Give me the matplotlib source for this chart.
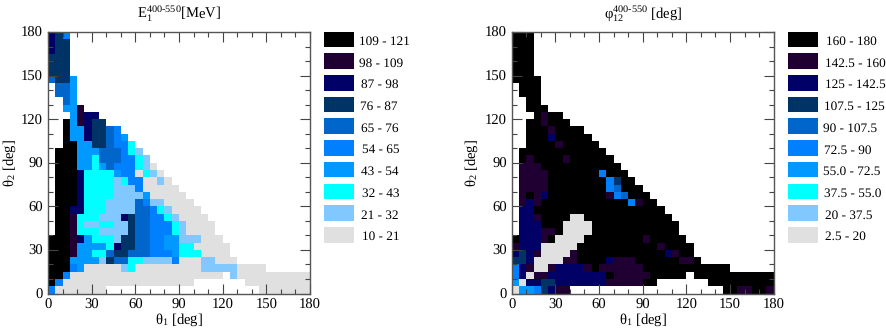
import matplotlib
matplotlib.use('Agg')
import matplotlib.pyplot as plt
from matplotlib.colors import ListedColormap
from matplotlib.patches import Rectangle
from matplotlib.ticker import MultipleLocator
import numpy as np

plt.rcParams['font.family'] = ['Liberation Serif', 'DejaVu Serif']
plt.rcParams['mathtext.fontset'] = 'custom'
plt.rcParams['mathtext.rm'] = 'Liberation Serif'
plt.rcParams['mathtext.it'] = 'Liberation Serif'
plt.rcParams['text.hinting'] = 'none'

# class index per 5 degree cell, top row first, "." = no data
energy_rows = [
    "764", "766", "766", "666", "666", "666", "5663", ".553", ".553", "..53",
    "..338", "...3877", "..938766", "..93376654", "..933766543",
    "..9933665442", ".999333555421", ".9993325554421", ".99933235444210",
    ".999722223440210", ".9997222212440010", ".99972222111400000",
    ".999722221111300000", ".9997222111154110000", ".99772221111554210000",
    ".998222111765544210000", ".99821122116554442100" + "00",
    ".99822211116554442100" + "00",
    "999873222166554433111000", "9998333327665544332200000",
    "9998332256655544432220000", "99933331655221111400011000",
    "99943" + "0" * 5 + "12" + "0" * 9 + "11111" + "0000",
    "994" + "0" * 21 + ".1" + "0" * 10,
    "94" + "0" * 18 + "." * 7 + "0" * 9,
    "4" + "0" * 7 + "." * 21 + "0" * 7,
]
energy_labels = ["10 - 21", "21 - 32", "32 - 43", "43 - 54", "54 - 65",
                 "65 - 76", "76 - 87", "87 - 98", "98 - 109", "109 - 121"]

phi_rows = [
    "999", "999", "999", "999", "999", "999", "9999", ".999", ".999", "..99",
    "..999", "...9899", "..998999", "..99989999", "..999799999",
    "..9999" + "8" + "9" * 5,
    "." + "9" * 12,
    ".98" + "9999" + "8" + "9" * 6,
    ".888" + "9" * 11,
    ".8888" + "9" * 7 + "4" + "999",
    ".8888" + "9" * 8 + "46" + "99",
    ".8888" + "9" * 8 + "45" + "999",
    ".8987" + "9" * 8 + "845" + "999",
    ".878" + "9" * 12 + "48" + "99",
    ".77" + "9" * 18,
    ".778" + "9999" + "00" + "9" * 12,
    ".777" + "999" + "0000" + "9" * 12,
    ".777" + "889" + "0000" + "9" * 12,
    "977789" + "0000" + "9" * 8 + "8" + "9" * 5,
    "8777" + "0" * 5 + "9" * 11 + "8" + "9999",
    "7678" + "0000" + "8" + "9" * 12 + "78" + "99",
    "667" + "0000" + "88" + "9999" + "7" + "888" + "9" * 6 + "88" + "9",
    "47800" + "8" + "7777" + "89" + "8" * 6 + "9" * 12,
    "47088" + "7" * 8 + "9" + "8" * 5 + "9" * 5 + "." + "9" * 11,
    "307766" + "7" * 7 + "8" * 5 + "99" + "." * 7 + "9" * 9,
    "033467" + "88" + "." * 21 + "99" + "88" + "99" + "8",
]
phi_labels = ["2.5 - 20", "20 - 37.5", "37.5 - 55.0", "55.0 - 72.5", "72.5 - 90",
              "90 - 107.5", "107.5 - 125", "125 - 142.5", "142.5 - 160", "160 - 180"]

colors = ['#e0e0e0', '#80c8ff', '#00ffff', '#0099ff', '#0080ff',
          '#0066cc', '#003366', '#000066', '#200033', '#000000']
W, H = 886, 331

# left edge of each legend text in pixels, top entry first
energy_text_x = [359, 359, 361, 360, 361, 362, 361, 362, 361, 362]
phi_text_x = [826, 825, 825, 824, 823, 824, 823, 824, 825, 825]


def rows_to_grid(rows):
    grid = np.full((36, 36), np.nan)
    for r, row in enumerate(rows):
        for c, ch in enumerate(row):
            if ch != '.':
                grid[35 - r, c] = int(ch)
    return grid


def draw_panel(fig, rows, labels, title, left, title_x, ylabel_x, swatch_x, text_x):
    ax = fig.add_axes([left / W, 1 - 293.5 / H, 262 / W, 261.5 / H])
    edges = np.arange(0, 185, 5)
    ax.pcolormesh(edges, edges, rows_to_grid(rows), cmap=ListedColormap(colors),
                  vmin=-0.5, vmax=9.5)
    ax.set_xlim(0, 180)
    ax.set_ylim(0, 180)
    ax.set_xticks(np.arange(0, 181, 30))
    ax.set_yticks(np.arange(0, 181, 30))
    ax.xaxis.set_minor_locator(MultipleLocator(10))
    ax.yaxis.set_minor_locator(MultipleLocator(10))
    ax.tick_params(which='major', direction='in', length=7.5, width=0.8, top=True,
                   right=True, labelsize=10.5, color='#444444', pad=3.5)
    ax.tick_params(which='minor', direction='in', length=3.8, width=0.8, top=True,
                   right=True, color='#444444')
    for spine in ax.spines.values():
        spine.set_linewidth(1.0)
        spine.set_color('#555555')
    fig.text((left + 131) / W, 1 - 320 / H, r'θ$_{1}$ [deg]', fontsize=10.5,
             ha='center', va='center')
    fig.text(ylabel_x / W, 1 - 163 / H, r'θ$_{2}$ [deg]', fontsize=10.5,
             rotation=90, ha='center', va='center')
    fig.text(title_x / W, 1 - 13 / H, title, fontsize=10.5, ha='center', va='center')

    # legend is stacked from the top class down
    for i, label in enumerate(labels[::-1]):
        top = 31.7 + i * 21.7
        fig.add_artist(Rectangle((swatch_x / W, 1 - (top + 15.6) / H), 30 / W, 15.6 / H,
                                 transform=fig.transFigure,
                                 facecolor=colors[9 - i], edgecolor='none'))
        fig.text(text_x[i] / W, 1 - (top + 10) / H, label, fontsize=9.5,
                 ha='left', va='center')


fig = plt.figure(figsize=(W / 100, H / 100), dpi=100)
draw_panel(fig, energy_rows, energy_labels, r'E$_{1}^{\text{400-550}}$[MeV]',
           48, 179, 10, 324.3, energy_text_x)
draw_panel(fig, phi_rows, phi_labels, r'φ$_{12}^{\text{400-550}}$ [deg]',
           511.7, 643, 472, 788, phi_text_x)
fig.savefig('out.png', dpi=100, facecolor='white')
plt.close(fig)
